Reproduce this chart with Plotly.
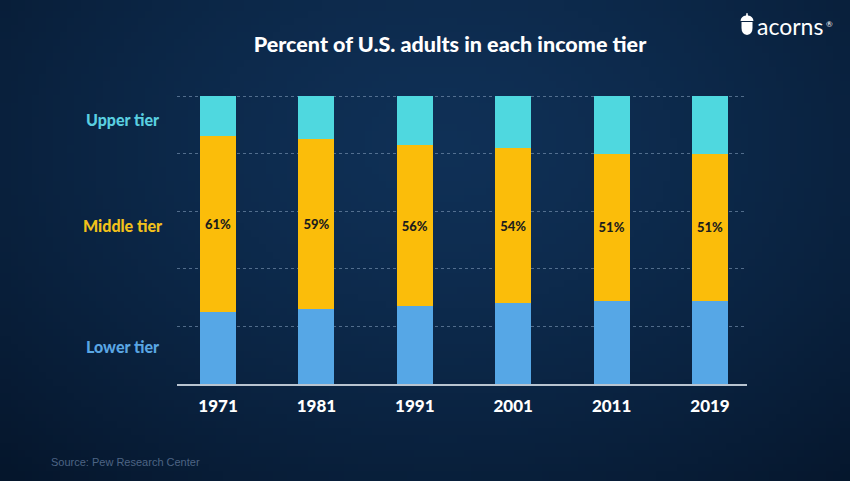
import zlib, struct, base64, math
import plotly.graph_objects as go

years = ["1971", "1981", "1991", "2001", "2011", "2019"]
lower = [25, 26, 27, 28, 29, 29]
middle = [61, 59, 56, 54, 51, 51]
upper = [14, 15, 17, 18, 20, 20]
middle_labels = [f"{v}%" for v in middle]
tier_names = ["Upper tier", "Middle tier", "Lower tier"]

W, H = 850, 481
L, R, T, B = 177, 103, 95, 97
PW, PH = W - L - R, H - T - B

# background radial gradient as a small PNG
def make_png(w, h, fn):
    raw = b""
    for j in range(h):
        row = bytearray([0])
        for i in range(w):
            row += bytes(fn(i / (w - 1), j / (h - 1)))
        raw += bytes(row)
    def chunk(t, d):
        c = struct.pack(">I", len(d)) + t + d
        return c + struct.pack(">I", zlib.crc32(t + d) & 0xffffffff)
    png = b"\x89PNG\r\n\x1a\n" + chunk(b"IHDR", struct.pack(">IIBBBBB", w, h, 8, 2, 0, 0, 0))
    png += chunk(b"IDAT", zlib.compress(raw, 9)) + chunk(b"IEND", b"")
    return "data:image/png;base64," + base64.b64encode(png).decode()

c_in = (15, 48, 86)
c_out = (5, 22, 44)
def grad(u, v):
    d = math.sqrt(((u - 0.52) / 0.75) ** 2 + ((v - 0.3) / 0.95) ** 2)
    t = min(1.0, d)
    t = t ** 1.4
    return [int(round(a + (b - a) * t)) for a, b in zip(c_in, c_out)]

bg = make_png(120, 68, grad)

x = list(range(len(years)))
fig = go.Figure()
fig.add_trace(go.Bar(x=x, y=lower, name="Lower tier", marker=dict(color="#56a7e6", line=dict(width=0)),
                     width=0.366, hoverinfo="skip"))
fig.add_trace(go.Bar(x=x, y=middle, name="Middle tier", marker=dict(color="#fbbd0a", line=dict(width=0)),
                     width=0.366, text=middle_labels, textposition="inside", insidetextanchor="middle",
                     textangle=0, textfont=dict(color="#1d1d1d", size=13, family="Lato", weight=900),
                     hoverinfo="skip"))
fig.add_trace(go.Bar(x=x, y=upper, name="Upper tier", marker=dict(color="#4fd8df", line=dict(width=0)),
                     width=0.366, hoverinfo="skip"))

fig.update_layout(
    barmode="stack",
    width=W, height=H,
    margin=dict(l=L, r=R, t=T, b=B),
    paper_bgcolor="#0a2340",
    plot_bgcolor="rgba(0,0,0,0)",
    showlegend=False,
    title=dict(text="Percent of U.S. adults in each income tier", x=450 / W, xanchor="center",
               y=1 - 44 / H, yanchor="middle",
               font=dict(family="Lato", size=21.5, color="white", weight=900)),
    xaxis=dict(range=[-0.417, 5.376], tickvals=x, ticktext=years, showgrid=False, zeroline=False,
               showline=True, linecolor="#b9c4d0", linewidth=2,
               ticks="outside", ticklen=6, tickcolor="rgba(0,0,0,0)",
               tickfont=dict(family="Lato", size=17, color="white", weight=900), fixedrange=True),
    yaxis=dict(range=[0, 100.4], tickvals=[20, 40, 60, 80, 100], showticklabels=False, showgrid=True,
               gridcolor="rgba(140,165,195,0.55)", griddash="dot", gridwidth=1.3, zeroline=False,
               showline=False, fixedrange=True),
    images=[dict(source=bg, xref="paper", yref="paper", x=-L / PW, y=1 + T / PH,
                 sizex=W / PW, sizey=H / PH, sizing="stretch", layer="below", xanchor="left", yanchor="top")],
)

tier_colors = ["#5acfe0", "#f3c11b", "#5aa6e3"]
tier_y = [119, 226, 346]
for name, col, yy in zip(tier_names, tier_colors, tier_y):
    fig.add_annotation(text=name, xref="paper", yref="paper", x=(122 - L) / PW, y=(H - B - yy) / PH,
                       xanchor="center", yanchor="middle", showarrow=False,
                       font=dict(family="Lato", size=16, color=col, weight=900))

fig.add_annotation(text="Source: Pew Research Center", xref="paper", yref="paper",
                   x=(49 - L) / PW, y=(H - B - 462) / PH, xanchor="left", yanchor="middle",
                   showarrow=False, font=dict(family="Liberation Sans", size=11, color="#4d6484"))

# acorns logo
fig.add_annotation(text="acorns", xref="paper", yref="paper", x=(755 - L) / PW, y=(H - B - 26) / PH,
                   xanchor="left", yanchor="middle", showarrow=False,
                   font=dict(family="Lato", size=23, color="white"))
fig.add_annotation(text="®", xref="paper", yref="paper", x=(824 - L) / PW, y=(H - B - 24) / PH,
                   xanchor="left", yanchor="middle", showarrow=False,
                   font=dict(family="Lato", size=8, color="white"))
def px(xp):
    return (xp - L) / PW
def py(yp):
    return (H - B - yp) / PH
# acorn body
fig.add_shape(type="path", xref="paper", yref="paper",
              path=f"M {px(741.5)},{py(22)} L {px(752.5)},{py(22)} L {px(752.5)},{py(28)} "
                   f"Q {px(752.5)},{py(34)} {px(747)},{py(35)} Q {px(741.5)},{py(34)} {px(741.5)},{py(28)} Z",
              fillcolor="white", line=dict(width=0))
# acorn cap
fig.add_shape(type="path", xref="paper", yref="paper",
              path=f"M {px(740.5)},{py(21)} Q {px(741)},{py(16)} {px(746)},{py(15.5)} L {px(746.5)},{py(13)} "
                   f"L {px(747.5)},{py(13)} L {px(748)},{py(15.5)} Q {px(753)},{py(16)} {px(753.5)},{py(21)} Z",
              fillcolor="white", line=dict(width=0))

fig.write_html("out.html", config={"displayModeBar": False},
               post_script="document.body.style.margin='0';document.body.style.overflow='hidden';")
